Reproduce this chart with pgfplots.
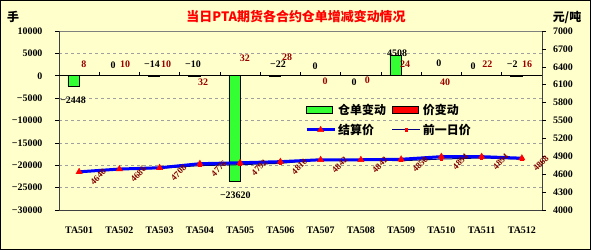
\documentclass[border=0pt]{standalone}
\usepackage{fontspec}
\usepackage{pgfplots}
\usepackage{pgfplotstable}
\pgfplotsset{compat=1.18}
\setmainfont{Liberation Serif}
\newfontfamily\cjk{Noto Sans CJK SC}

\definecolor{bgyellow}{HTML}{FFFFCC}
\definecolor{barGreen}{HTML}{33FF33}
\definecolor{labelRed}{HTML}{990000}
\definecolor{priceRed}{HTML}{800000}
\definecolor{gridGray}{HTML}{A0A0A0}
\definecolor{lineBlue}{HTML}{0000FF}
\definecolor{prevBlue}{HTML}{000080}

% legend images for bar and line entries
\pgfplotsset{
  barlegend/.style={legend image code/.code={\draw[##1] (0bp,-3.5bp) rectangle (26bp,3.5bp);}},
  linelegend/.style={legend image code/.code={\draw[##1, mark repeat=2, mark phase=2] plot coordinates {(0bp,0bp) (14bp,0bp) (28bp,0bp)};}},
}

% idx: contract index, wr: warehouse receipt change (lots),
% pc: price change, settle: settlement price, prev: previous-day price
\pgfplotstableread{
idx wr     pc settle prev
0   -2448  8  4640   4632
1   0      10 4686   4676
2   -14    10 4708   4698
3   -10    32 4776   4744
4   -23620 32 4792   4760
5   -22    28 4810   4782
6   0      0  4842   4842
7   0      0  4842   4842
8   4508   24 4850   4826
9   0      40 4894   4854
10  0      22 4894   4872
11  -2     16 4868   4852
}\contracts

\newcommand{\tickfont}{\bfseries\fontsize{10}{12}\selectfont}
\newcommand{\cjkfont}{\cjk\bfseries\fontsize{12}{14}\selectfont}

\begin{document}
\begin{tikzpicture}
\useasboundingbox (0,0) rectangle (591bp,250bp);
\fill[bgyellow] (0,0) rectangle (591bp,250bp);
\draw[black, line width=1bp] (0.5bp,0.5bp) rectangle (590.5bp,249.5bp);

% titles and units
\node[text=red, font=\cjk\bfseries\fontsize{13}{15}\selectfont] at (296bp,233bp) {当日PTA期货各合约仓单增减变动情况};
\node[font=\cjkfont] at (13bp,233bp) {手};
\node[font=\cjkfont] at (567bp,233bp) {元/吨};

% left axis: warehouse receipt changes
\begin{axis}[
  at={(59bp,40bp)}, anchor=south west,
  width=483bp, height=179bp, scale only axis,
  xmin=-0.5, xmax=11.5, ymin=-30000, ymax=10000,
  xtick={0,...,11},
  xticklabels={TA501,TA502,TA503,TA504,TA505,TA506,TA507,TA508,TA509,TA510,TA511,TA512},
  xtick style={draw=none},
  xticklabel style={font=\tickfont, yshift=-9bp},
  scaled y ticks=false,
  ytick={-30000,-25000,-20000,-15000,-10000,-5000,0,5000,10000},
  yticklabels={−30000,−25000,−20000,−15000,−10000,−5000,0,5000,10000},
  yticklabel style={font=\tickfont, xshift=-9bp},
  ytick pos=left, tick align=outside, major tick length=4bp,
  tick style={black, line width=0.6bp},
  axis line style={draw=none},
  ymajorgrids, grid style={gridGray, dashed, dash pattern=on 3bp off 3bp, line width=0.6bp},
  clip=false,
]
\addplot[ybar, bar width=0.28, bar shift=-0.14, fill=barGreen, draw=black, line width=0.5bp]
  table[x=idx, y=wr] {\contracts};
\addplot[ybar, bar width=0.28, bar shift=0.14, fill=red, draw=none]
  table[x=idx, y=pc] {\contracts};

% plot frame and category axis at zero
\draw[gray, line width=0.8bp] (rel axis cs:0,1) -- (rel axis cs:1,1);
\draw[black!75, line width=0.8bp] (rel axis cs:0,1) -- (rel axis cs:0,0) -- (rel axis cs:1,0) -- (rel axis cs:1,1);
\draw[black, line width=0.8bp] (axis cs:-0.5,0) -- (axis cs:11.5,0);
\pgfplotsinvokeforeach{0.5,1.5,2.5,3.5,4.5,5.5,6.5,7.5,8.5,9.5,10.5}{
  \draw[black, line width=0.6bp] (axis cs:#1,0) -- ([yshift=4bp]axis cs:#1,0);
}

% data labels
\begin{scope}[every node/.style={font=\tickfont}]
\node at (axis cs:-0.15,-5400) {−2448};
\node at (axis cs:0.845,2410) {0};
\node at (axis cs:1.81,2634) {−14};
\node at (axis cs:2.83,2634) {−10};
\node at (axis cs:3.88,-26605) {−23620};
\node at (axis cs:4.94,2634) {−22};
\node at (axis cs:5.86,2187) {0};
\node at (axis cs:6.83,-1384) {0};
\node at (axis cs:7.90,5089) {4508};
\node at (axis cs:8.94,2857) {0};
\node at (axis cs:9.79,2187) {0};
\node at (axis cs:10.76,2634) {−2};
\end{scope}
\begin{scope}[every node/.style={font=\tickfont, text=labelRed}]
\node at (axis cs:0.12,2634) {8};
\node at (axis cs:1.14,2634) {10};
\node at (axis cs:2.16,2634) {10};
\node at (axis cs:3.08,-1384) {32};
\node at (axis cs:4.12,3973) {32};
\node at (axis cs:5.17,4196) {28};
\node at (axis cs:6.11,-1161) {0};
\node at (axis cs:7.16,-937) {0};
\node at (axis cs:8.10,2634) {24};
\node at (axis cs:9.09,-1384) {40};
\node at (axis cs:10.14,2634) {22};
\node at (axis cs:11.13,2634) {16};
\end{scope}
\end{axis}

% right axis: prices
\begin{axis}[
  at={(59bp,40bp)}, anchor=south west,
  width=483bp, height=179bp, scale only axis,
  xmin=-0.5, xmax=11.5, ymin=4000, ymax=7000,
  xtick=\empty,
  ytick={4000,4300,4600,4900,5200,5500,5800,6100,6400,6700,7000},
  ytick pos=right, tick align=outside, major tick length=4bp,
  tick style={black, line width=0.6bp},
  yticklabel style={font=\tickfont, xshift=3.5bp, /pgf/number format/1000 sep={}, /pgf/number format/assume math mode=true},
  axis line style={draw=none},
  clip=false,
  legend columns=2,
  legend style={draw=none, fill=none, at={(0.503,0.615)}, anchor=north west,
    font=\cjkfont, row sep=4bp,
    /tikz/every even column/.append style={column sep=4bp},
    /tikz/every odd column/.append style={column sep=0bp}},
  legend cell align=left,
]
\addlegendimage{fill=barGreen, draw=black, line width=0.6bp, barlegend}
\addlegendentry{仓单变动}
\addlegendimage{fill=red, draw=black, line width=0.6bp, barlegend}
\addlegendentry{价变动}

\addplot[prevBlue, line width=1bp, mark=square*, mark size=1.2bp,
  mark options={fill=red, draw=red}, forget plot]
  table[x=idx, y=prev] {\contracts};

\addplot[lineBlue, line width=3bp, mark=triangle*, mark size=3.6bp,
  mark options={fill=red, draw=red, line width=0.4bp},
  linelegend,
  nodes near coords={\pgfmathprintnumber[fixed, precision=0, 1000 sep={}, assume math mode=true]{\pgfplotspointmeta}},
  point meta=y,
  every node near coord/.append style={anchor=center, xshift=19bp, yshift=-5bp, rotate=45,
    font=\bfseries\fontsize{9}{10}\selectfont, text=priceRed, inner sep=0pt}]
  table[x=idx, y=settle] {\contracts};
\addlegendentry{结算价}

\addlegendimage{prevBlue, line width=1bp, mark=square*, mark size=1.2bp,
  mark options={fill=red, draw=red}, linelegend}
\addlegendentry{前一日价}
\end{axis}
\end{tikzpicture}
\end{document}
